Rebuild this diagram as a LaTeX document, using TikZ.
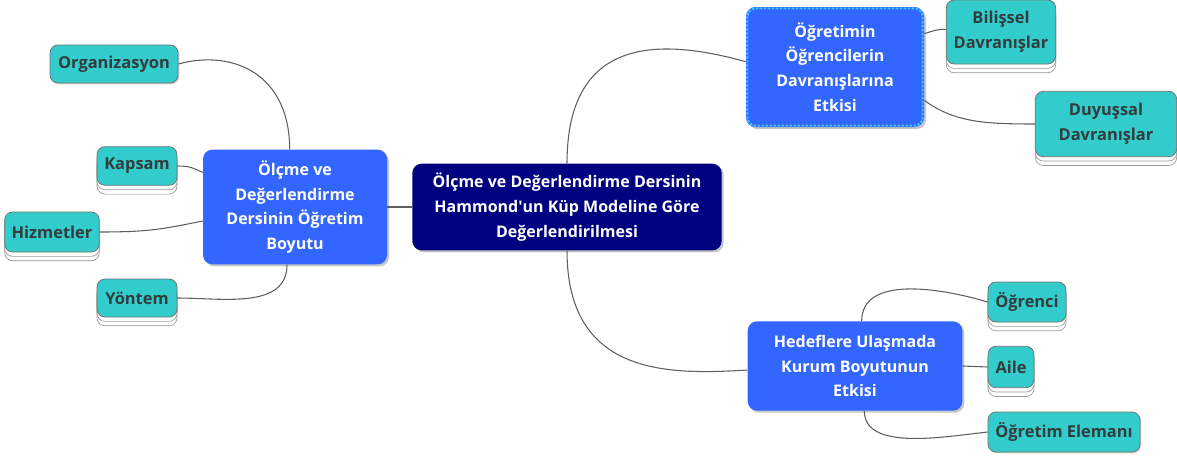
\documentclass[tikz,border=0pt]{standalone}
\usepackage{fontspec}
\setmainfont{Open Sans}
\usetikzlibrary{shadows}
\definecolor{mainblue}{RGB}{51,102,255}
\definecolor{navyc}{RGB}{0,0,128}
\definecolor{tealc}{RGB}{51,204,204}
\definecolor{txtc}{RGB}{50,60,60}
\definecolor{connc}{RGB}{95,95,95}
\definecolor{dotc}{RGB}{60,200,255}
\tikzset{
  leafbase/.style={fill=tealc, draw=black!55, line width=0.6pt, rounded corners=6pt,
    font=\bfseries\fontsize{12.3}{18.5}\selectfont, text=txtc, align=center, inner sep=0pt},
  leaf/.style={leafbase, drop shadow={shadow xshift=1pt, shadow yshift=-1pt, opacity=0.35}},
  stackleaf/.style={leafbase, double copy shadow={shadow xshift=0pt, shadow yshift=-3.3pt, fill=white, draw=black!40, line width=0.5pt}},
  topic/.style={fill=mainblue, rounded corners=7pt, text=white, align=center, inner sep=0pt,
    font=\bfseries\fontsize{12}{18.5}\selectfont,
    drop shadow={shadow xshift=1.5pt, shadow yshift=-1.5pt, opacity=0.45}},
  centre/.style={topic, fill=navyc},
  conn/.style={draw=connc, line width=0.8pt},
}
\begin{document}
\begin{tikzpicture}[x=0.75pt, y=-0.75pt]
\useasboundingbox (0,0) rectangle (1177,457);
% main nodes
\node[centre, minimum width=232pt, minimum height=65pt] (c) at (567,207)
  {Ölçme ve Değerlendirme Dersinin\\Hammond\textquotesingle un Küp Modeline Göre\\Değerlendirilmesi};
\node[topic, minimum width=138pt, minimum height=86pt] (lm) at (295,207)
  {Ölçme ve\\Değerlendirme\\Dersinin Öğretim\\Boyutu};
\node[topic, minimum width=133.5pt, minimum height=90pt] (tr) at (835,67)
  {Öğretimin\\Öğrencilerin\\Davranışlarına\\Etkisi};
\draw[dotc, line width=1.6pt, dash pattern=on 1.8pt off 1.2pt, rounded corners=6pt]
  ([xshift=1.2pt,yshift=-1.2pt]tr.north west) rectangle ([xshift=-1.2pt,yshift=1.2pt]tr.south east);
\node[topic, minimum width=161pt, minimum height=67pt] (br) at (855,366)
  {Hedeflere Ulaşmada\\Kurum Boyutunun\\Etkisi};
% leaves
\node[leaf, minimum width=96pt, minimum height=28.5pt] (o) at (114,64) {Organizasyon};
\node[stackleaf, minimum width=60pt, minimum height=29pt] (k) at (137,166) {Kapsam};
\node[stackleaf, minimum width=71pt, minimum height=30pt] (h) at (52,232) {Hizmetler};
\node[stackleaf, minimum width=60pt, minimum height=28.5pt] (y) at (137,298) {Yöntem};
\node[stackleaf, minimum width=82pt, minimum height=48pt] (b) at (1001,32) {Bilişsel\\Davranışlar};
\node[stackleaf, minimum width=106pt, minimum height=49pt] (d) at (1106,124) {Duyuşsal\\Davranışlar};
\node[stackleaf, minimum width=58.5pt, minimum height=30pt] (og) at (1027,302) {Öğrenci};
\node[stackleaf, minimum width=34.5pt, minimum height=31pt] (a) at (1011,367) {Aile};
\node[leaf, minimum width=114pt, minimum height=30pt] (oe) at (1064,432) {Öğretim Elemanı};
% connectors
\path[conn] (c.west) -- (lm.east);
\path[conn] (c.north) .. controls +(0,-125) and +(-90,-25) .. ([yshift=4pt]tr.west);
\path[conn] (c.south) .. controls +(0,125) and +(-80,5) .. ([yshift=-3pt]br.west);
\path[conn] (o.east) .. controls +(55,-15) and +(0,-75) .. ([xshift=-4pt]lm.north);
\path[conn] (k.east) .. controls +(14,0) and +(-10,-4) .. ([yshift=26pt]lm.west);
\path[conn] (h.east) .. controls +(50,0) and +(-40,8) .. ([yshift=-10.5pt]lm.west);
\path[conn] ([xshift=-6pt]lm.south) .. controls +(0,45) and +(45,0) .. (y.east);
\path[conn] ([yshift=25pt]tr.east) .. controls +(10,-3) and +(-10,0) .. ([yshift=2pt]b.west);
\path[conn] ([yshift=-25pt]tr.east) .. controls +(30,22) and +(-50,0) .. (d.west);
\path[conn] ([xshift=5pt]br.north) .. controls +(0,-45) and +(-50,-15) .. (og.west);
\path[conn] (br.east) -- (a.west);
\path[conn] ([xshift=7pt]br.south) .. controls +(0,40) and +(-45,5) .. (oe.west);
\end{tikzpicture}
\end{document}
